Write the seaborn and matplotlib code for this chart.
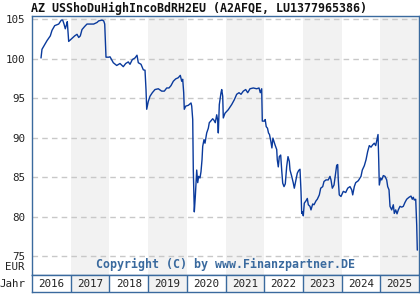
import matplotlib
matplotlib.use("Agg")
import matplotlib.pyplot as plt
import seaborn as sns
import pandas as pd

title = "AZ USShoDuHighIncoBdRH2EU (A2AFQE, LU1377965386)"
copyright_text = "Copyright (C) by www.Finanzpartner.DE"
years = [2016, 2017, 2018, 2019, 2020, 2021, 2022, 2023, 2024, 2025]
y_ticks = [75, 80, 85, 90, 95, 100, 105]

dates = [
    2016.233, 2016.258, 2016.328, 2016.388, 2016.473, 2016.517, 2016.587, 2016.690, 2016.757, 2016.793,
    2016.827, 2016.860, 2016.897, 2016.912, 2016.930, 2016.948, 2017.016, 2017.103, 2017.163, 2017.207,
    2017.248, 2017.292, 2017.362, 2017.421, 2017.506, 2017.594, 2017.680, 2017.723, 2017.809, 2017.853,
    2017.879, 2017.912, 2017.982, 2018.016, 2018.101, 2018.189, 2018.274, 2018.359, 2018.421, 2018.488,
    2018.532, 2018.592, 2018.661, 2018.713, 2018.747, 2018.817, 2018.876, 2018.920, 2018.946, 2018.964,
    2019.005, 2019.049, 2019.109, 2019.178, 2019.264, 2019.351, 2019.419, 2019.481, 2019.540, 2019.592,
    2019.651, 2019.713, 2019.780, 2019.832, 2019.868, 2019.894, 2019.920, 2019.935, 2019.972, 2020.039,
    2020.109, 2020.127, 2020.153, 2020.168, 2020.194, 2020.220, 2020.256, 2020.282, 2020.307, 2020.341,
    2020.367, 2020.393, 2020.411, 2020.444, 2020.470, 2020.514, 2020.556, 2020.581, 2020.618, 2020.669,
    2020.703, 2020.736, 2020.773, 2020.798, 2020.814, 2020.840, 2020.884, 2020.902, 2020.928, 2020.943,
    2020.987, 2021.072, 2021.160, 2021.227, 2021.289, 2021.349, 2021.401, 2021.460, 2021.522, 2021.574,
    2021.633, 2021.718, 2021.806, 2021.866, 2021.899, 2021.935, 2021.951, 2022.000, 2022.026, 2022.052,
    2022.085, 2022.111, 2022.137, 2022.173, 2022.199, 2022.225, 2022.253, 2022.279, 2022.323, 2022.338,
    2022.364, 2022.390, 2022.426, 2022.452, 2022.478, 2022.512, 2022.545, 2022.581, 2022.615, 2022.649,
    2022.667, 2022.711, 2022.752, 2022.778, 2022.822, 2022.855, 2022.891, 2022.925, 2022.951, 2022.969,
    2022.995, 2023.010, 2023.036, 2023.080, 2023.114, 2023.140, 2023.183, 2023.209, 2023.253, 2023.287,
    2023.339, 2023.372, 2023.424, 2023.460, 2023.512, 2023.545, 2023.597, 2023.656, 2023.700, 2023.726,
    2023.760, 2023.804, 2023.829, 2023.873, 2023.899, 2023.914, 2023.940, 2023.984, 2024.044, 2024.106,
    2024.158, 2024.217, 2024.261, 2024.287, 2024.328, 2024.364, 2024.432, 2024.501, 2024.535, 2024.587,
    2024.631, 2024.674, 2024.716, 2024.760, 2024.804, 2024.845, 2024.881, 2024.915, 2024.941, 2024.959,
    2024.974, 2025.010, 2025.036, 2025.078, 2025.121, 2025.165, 2025.191, 2025.225, 2025.251, 2025.295,
    2025.336, 2025.362, 2025.398, 2025.432, 2025.465, 2025.509, 2025.553, 2025.594, 2025.638, 2025.682,
    2025.742, 2025.793, 2025.827, 2025.853, 2025.879, 2025.915, 2025.941, 2025.956,
]
prices = [
    100.1, 101.2, 101.8, 102.3, 102.9, 103.6, 104.2, 104.4, 104.9, 104.9,
    104.4, 103.8, 104.4, 104.7, 103.5, 102.2, 102.5, 102.9, 103.1, 102.7,
    102.9, 103.7, 104.1, 104.4, 104.4, 104.4, 104.6, 104.8, 104.9, 104.8,
    104.4, 100.2, 100.2, 100.25, 99.5, 99.15, 99.4, 99.0, 99.4, 99.6,
    99.3, 99.9, 100.1, 100.45, 99.5, 99.3, 98.6, 98.55, 96.1, 93.6,
    94.6, 95.25, 95.7, 96.1, 96.2, 95.9, 95.9, 96.3, 96.3, 96.6,
    97.15, 97.45, 97.6, 97.9, 97.15, 97.4, 95.7, 93.6, 94.0, 94.1,
    94.4, 94.0, 92.3, 85.9, 80.6, 82.55, 85.9, 84.3, 85.1, 84.9,
    85.7, 87.2, 88.9, 89.75, 89.3, 90.6, 91.2, 91.9, 92.1, 92.4,
    92.2, 91.9, 92.9, 92.2, 90.6, 94.2, 95.7, 96.1, 95.25, 92.5,
    93.1, 93.55, 94.2, 94.8, 95.5, 95.7, 95.5, 95.9, 96.1, 95.7,
    96.2, 96.3, 96.2, 96.3, 95.7, 96.2, 92.1, 92.1, 92.3, 91.4,
    91.2, 90.6, 90.4, 89.5, 88.7, 89.95, 89.5, 89.1, 88.5, 87.2,
    86.3, 87.6, 87.8, 85.9, 84.25, 83.8, 84.15, 86.35, 87.6, 87.0,
    85.9, 85.1, 84.25, 83.6, 84.65, 85.5, 85.85, 86.0, 83.2, 80.4,
    80.6, 80.1, 81.7, 82.0, 82.3, 81.5, 81.3, 80.85, 81.6, 81.5,
    82.0, 82.2, 82.75, 83.6, 83.8, 84.45, 84.65, 84.65, 85.1, 84.65,
    83.6, 84.0, 84.9, 86.5, 86.6, 84.65, 82.75, 82.55, 83.2, 83.05,
    83.6, 83.8, 83.4, 82.75, 83.8, 84.3, 84.55, 85.1, 85.9, 86.45,
    87.2, 88.25, 89.0, 88.8, 89.1, 89.3, 89.0, 89.8, 90.4, 87.2,
    84.0, 84.9, 84.65, 85.2, 85.1, 84.65, 83.8, 83.4, 81.3, 80.85,
    81.5, 80.4, 80.85, 80.35, 80.85, 81.3, 81.2, 81.3, 81.8, 82.2,
    82.45, 82.6, 82.2, 82.45, 82.1, 82.2, 78.9, 75.75,
]

df = pd.DataFrame({"date": dates, "price": prices})

sns.set_style("white")
plt.rcParams["font.family"] = ["DejaVu Sans Mono", "DejaVu Sans"]

frame_col = "#3a6a9e"
line_col = "#0a3a9c"
shade_col = "#f2f2f2"
grid_col = "#c8c8c8"

W, H = 420, 300
fig = plt.figure(figsize=(W / 100, H / 100), dpi=100)
fig.patch.set_facecolor("white")

x0, x1 = 32, 419
top, mid, bot = 16, 275, 292
ax = fig.add_axes([x0 / W, 1 - mid / H, (x1 - x0) / W, (mid - top) / H])
axs = fig.add_axes([x0 / W, 1 - bot / H, (x1 - x0) / W, (bot - mid) / H])

xmin, xmax = years[0], years[-1] + 1
for a in (ax, axs):
    a.set_xlim(xmin, xmax)
    for yr in years:
        if (yr - years[0]) % 2 == 1:
            a.axvspan(yr, yr + 1, color=shade_col, lw=0, zorder=0)
    for s in a.spines.values():
        s.set_color(frame_col)
        s.set_linewidth(1.0)

ax.set_ylim(72.6, 105.42)
for v in y_ticks:
    ax.axhline(v, color=grid_col, lw=1.0, ls=(0, (4, 3)), zorder=1)

sns.lineplot(data=df, x="date", y="price", ax=ax, color=line_col,
             linewidth=1.0, zorder=3, estimator=None, sort=False)
ax.set_xlabel("")
ax.set_ylabel("")
ax.set_xticks([])
ax.set_yticks(y_ticks)
ax.set_yticklabels([str(v) for v in y_ticks], fontsize=7.8, color="#222222")
ax.tick_params(axis="y", length=0, pad=5)

ax.text(0.5 * (xmin + xmax), 73.9, copyright_text, ha="center", va="center",
        fontsize=8.4, fontweight="bold", color="#3a6a9e", zorder=4)

axs.set_ylim(0, 1)
axs.set_xticks([])
axs.set_yticks([])
for yr in years[1:]:
    axs.axvline(yr, color=frame_col, lw=1.0)
for yr in years:
    axs.text(yr + 0.5, 0.45, str(yr), ha="center", va="center",
             fontsize=7.8, color="#222222")

fig.text(31 / W, 1 - 8 / H, title, ha="left", va="center",
         fontsize=8.4, fontweight="bold", color="#111111")
fig.text(25 / W, 1 - 267 / H, "EUR", ha="right", va="center",
         fontsize=7.8, color="#222222")
fig.text(25 / W, 1 - 284 / H, "Jahr", ha="right", va="center",
         fontsize=7.8, color="#222222")

fig.savefig("out.png", dpi=100, facecolor="white")
